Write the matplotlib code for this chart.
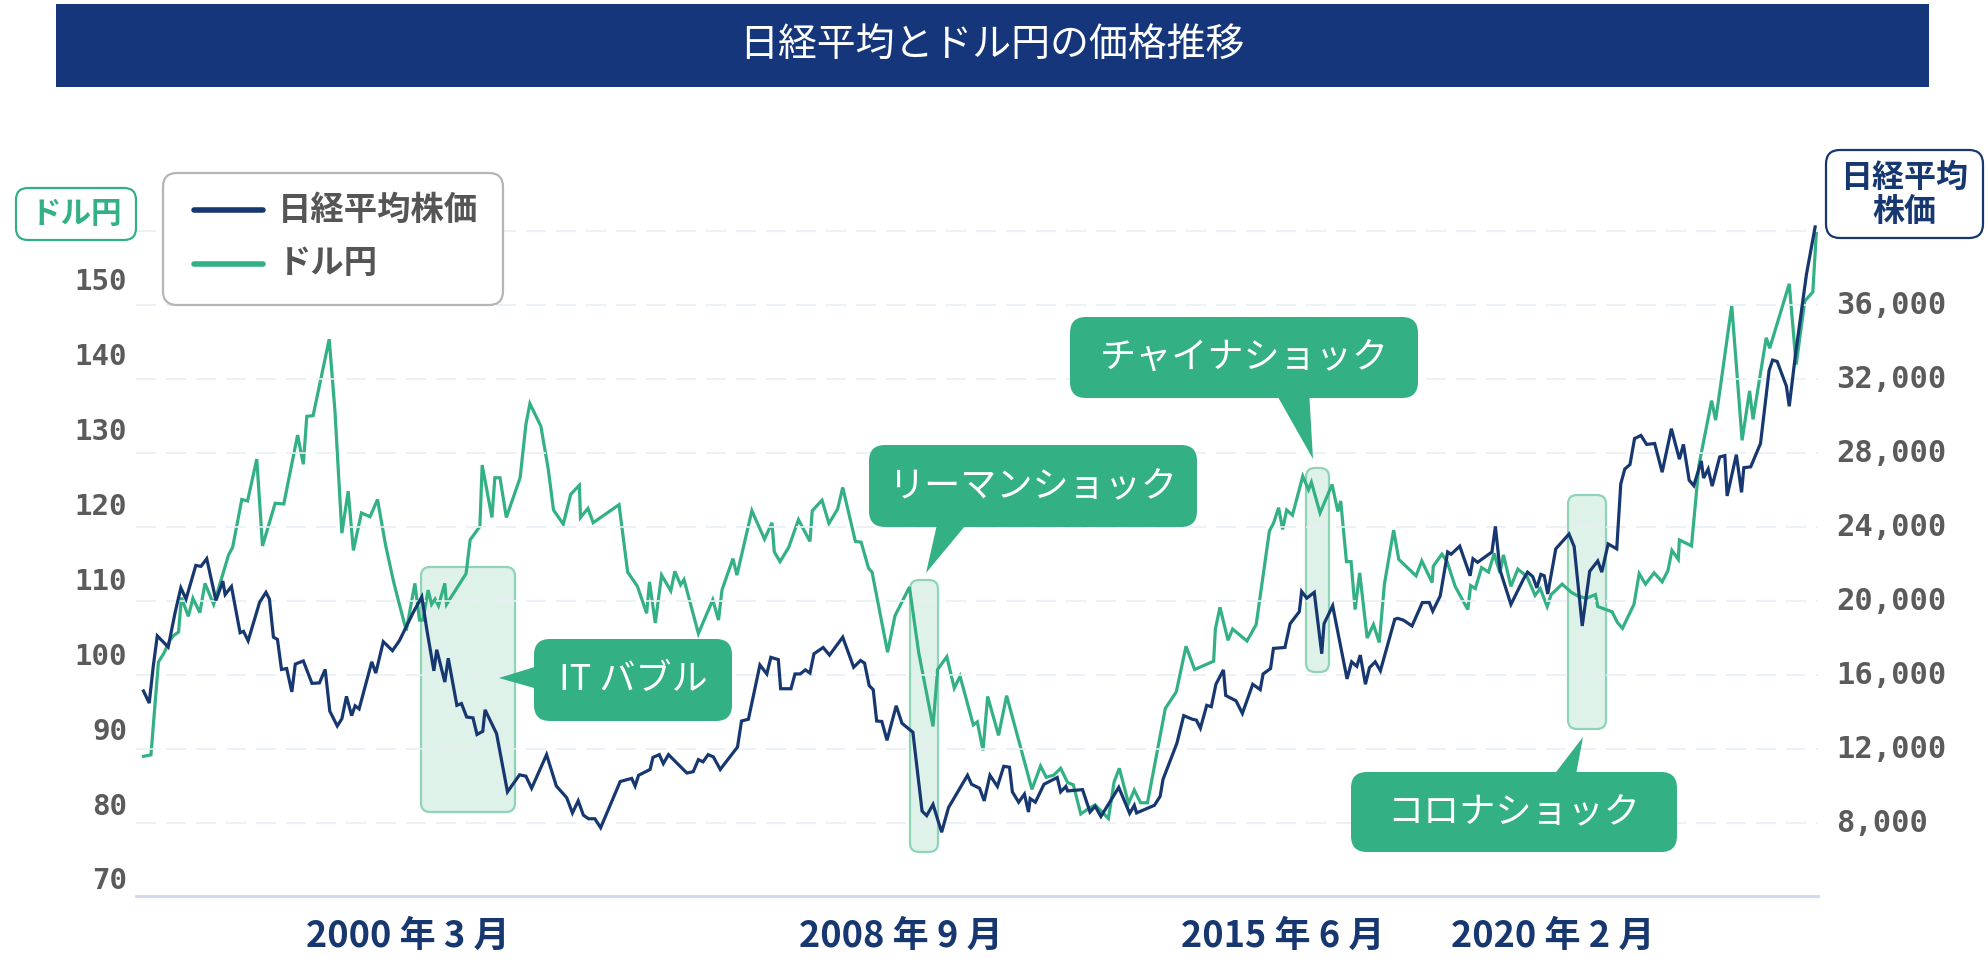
import matplotlib
matplotlib.use("Agg")
import matplotlib.pyplot as plt
from matplotlib.patches import FancyBboxPatch, Polygon, Rectangle
from matplotlib.lines import Line2D
from matplotlib.transforms import IdentityTransform

plt.rcParams['font.family'] = ['Noto Sans CJK JP', 'DejaVu Sans']

# ---- data (decimal year, value) ----
nikkei_t = [
    1995.40, 1995.50, 1995.57, 1995.64, 1995.83, 1995.95, 1996.05, 1996.14, 1996.31, 1996.40,
    1996.50, 1996.66, 1996.78, 1996.82, 1996.93, 1997.08, 1997.14, 1997.22, 1997.42, 1997.53,
    1997.59, 1997.66, 1997.73, 1997.80, 1997.89, 1997.98, 1998.04, 1998.18, 1998.33, 1998.46,
    1998.56, 1998.64, 1998.77, 1998.85, 1998.93, 1999.02, 1999.08, 1999.15, 1999.37, 1999.44,
    1999.57, 1999.73, 1999.85, 2000.09, 2000.24, 2000.33, 2000.45, 2000.50, 2000.64, 2000.70,
    2000.85, 2000.93, 2001.02, 2001.13, 2001.20, 2001.30, 2001.34, 2001.54, 2001.73, 2001.94,
    2002.05, 2002.15, 2002.41, 2002.58, 2002.76, 2002.86, 2002.96, 2003.05, 2003.14, 2003.25,
    2003.35, 2003.69, 2003.89, 2003.95, 2004.01, 2004.21, 2004.26, 2004.37, 2004.44, 2004.53,
    2004.85, 2004.96, 2005.05, 2005.13, 2005.22, 2005.31, 2005.43, 2005.73, 2005.80, 2005.92,
    2006.12, 2006.24, 2006.31, 2006.44, 2006.48, 2006.66, 2006.73, 2006.82, 2006.91, 2006.99,
    2007.06, 2007.22, 2007.33, 2007.56, 2007.75, 2007.87, 2007.94, 2008.02, 2008.09, 2008.15,
    2008.24, 2008.33, 2008.49, 2008.59, 2008.78, 2008.94, 2009.02, 2009.13, 2009.28, 2009.40,
    2009.73, 2009.80, 2009.94, 2010.02, 2010.12, 2010.25, 2010.36, 2010.46, 2010.51, 2010.62,
    2010.72, 2010.79, 2010.82, 2010.91, 2011.06, 2011.29, 2011.35, 2011.44, 2011.47, 2011.73,
    2011.86, 2011.95, 2012.05, 2012.36, 2012.55, 2012.63, 2012.67, 2012.98, 2013.08, 2013.13,
    2013.37, 2013.49, 2013.64, 2013.71, 2013.78, 2013.89, 2013.97, 2014.05, 2014.18, 2014.22,
    2014.40, 2014.51, 2014.69, 2014.82, 2014.87, 2015.00, 2015.05, 2015.25, 2015.34, 2015.50,
    2015.54, 2015.63, 2015.76, 2015.89, 2015.93, 2016.08, 2016.33, 2016.41, 2016.50, 2016.56,
    2016.65, 2016.72, 2016.82, 2016.91, 2017.16, 2017.21, 2017.31, 2017.46, 2017.64, 2017.76,
    2017.82, 2017.95, 2018.08, 2018.14, 2018.29, 2018.47, 2018.52, 2018.60, 2018.85, 2018.91,
    2018.99, 2019.18, 2019.40, 2019.47, 2019.56, 2019.63, 2019.70, 2019.76, 2019.82, 2019.96,
    2020.19, 2020.28, 2020.42, 2020.55, 2020.69, 2020.76, 2020.87, 2021.02, 2021.09, 2021.16,
    2021.25, 2021.33, 2021.44, 2021.54, 2021.68, 2021.81, 2021.97, 2022.11, 2022.18, 2022.28,
    2022.36, 2022.49, 2022.53, 2022.61, 2022.68, 2022.81, 2022.90, 2022.94, 2023.10, 2023.19,
    2023.23, 2023.35, 2023.52, 2023.67, 2023.73, 2023.81, 2023.97, 2024.02, 2024.13, 2024.32,
    2024.47,
]
nikkei_v = [
    15154, 14500, 16487, 18135, 17530, 19396, 20729, 20123, 21941, 21893,
    22305, 20051, 21093, 20366, 20802, 18305, 18378, 17869, 19954, 20487,
    20123, 18063, 17942, 16318, 16367, 15106, 16609, 16779, 15567, 15591,
    16318, 14063, 13263, 13651, 14864, 13821, 14354, 14184, 16730, 16124,
    17820, 17335, 17869, 19396, 20245, 18427, 16245, 17384, 15639, 16924,
    14379, 14475, 13748, 13700, 12803, 12973, 14136, 12852, 9701, 10622,
    10549, 9894, 11712, 10015, 9385, 8561, 9215, 8440, 8246, 8246,
    7761, 10258, 10428, 10015, 10597, 10912, 11566, 11712, 11227, 11712,
    10718, 10791, 11445, 11324, 11712, 11591, 10912, 12125, 13531, 13628,
    16561, 16076, 16973, 16852, 15276, 15276, 16076, 16076, 16294, 16124,
    17167, 17506, 17094, 18063, 16439, 16803, 16657, 15445, 15227, 13531,
    13506, 12488, 14355, 13409, 12924, 8658, 8416, 9021, 7518, 8852,
    10597, 10112, 9894, 9215, 10597, 9991, 11082, 11033, 9700, 9142,
    9579, 8609, 9337, 9142, 10112, 10476, 9700, 9991, 9749, 9821,
    8609, 8924, 8367, 9942, 8537, 8973, 8561, 8973, 9458, 10379,
    12318, 13821, 13627, 13579, 13143, 14379, 14306, 15518, 16294, 14912,
    14621, 13943, 15518, 15227, 16076, 16367, 17457, 17506, 18791, 19443,
    20535, 20173, 20487, 17167, 18791, 19760, 15809, 16730, 16488, 17094,
    15518, 16415, 16730, 16245, 19033, 19082, 18985, 18669, 19937, 19937,
    19469, 20293, 22669, 22547, 22984, 21384, 22305, 22111, 22669, 24050,
    21699, 19833, 21215, 21578, 21336, 20730, 21457, 21384, 20400, 22839,
    23639, 22960, 18669, 21627, 22184, 21578, 23105, 22839, 26353, 27153,
    27395, 28801, 28971, 28486, 28535, 26983, 29334, 27686, 28486, 26547,
    26256, 27589, 26668, 27153, 26232, 27808, 27880, 25699, 27929, 25893,
    27226, 27274, 28535, 32486, 33043, 32970, 31637, 30547, 33383, 37697,
    40243,
]

usdjpy_t = [
    1995.40, 1995.53, 1995.66, 1995.75, 1995.86, 1995.92, 1996.01, 1996.06, 1996.18, 1996.26,
    1996.38, 1996.47, 1996.62, 1996.67, 1996.88, 1996.95, 1997.11, 1997.21, 1997.37, 1997.47,
    1997.69, 1997.84, 1998.08, 1998.18, 1998.24, 1998.35, 1998.63, 1998.73, 1998.85, 1998.96,
    1999.05, 1999.19, 1999.34, 1999.47, 1999.61, 1999.75, 1999.86, 1999.97, 2000.12, 2000.20,
    2000.26, 2000.35, 2000.41, 2000.47, 2000.53, 2000.64, 2000.67, 2001.01, 2001.08, 2001.25,
    2001.29, 2001.46, 2001.51, 2001.60, 2001.71, 2001.95, 2002.05, 2002.12, 2002.31, 2002.44,
    2002.53, 2002.70, 2002.83, 2002.98, 2003.00, 2003.13, 2003.22, 2003.67, 2003.82, 2003.99,
    2004.15, 2004.20, 2004.30, 2004.41, 2004.57, 2004.64, 2004.74, 2004.80, 2005.05, 2005.30,
    2005.40, 2005.46, 2005.65, 2005.72, 2005.98, 2006.20, 2006.33, 2006.37, 2006.47, 2006.62,
    2006.79, 2006.99, 2007.03, 2007.20, 2007.32, 2007.47, 2007.56, 2007.78, 2007.88, 2008.01,
    2008.07, 2008.34, 2008.47, 2008.72, 2008.88, 2009.13, 2009.21, 2009.37, 2009.50, 2009.60,
    2009.83, 2009.90, 2010.00, 2010.08, 2010.27, 2010.41, 2010.85, 2011.00, 2011.10, 2011.23,
    2011.35, 2011.47, 2011.57, 2011.70, 2011.83, 2011.95, 2012.18, 2012.28, 2012.37, 2012.53,
    2012.63, 2012.74, 2012.86, 2013.17, 2013.36, 2013.53, 2013.68, 2014.01, 2014.04, 2014.12,
    2014.26, 2014.34, 2014.59, 2014.75, 2014.98, 2015.05, 2015.14, 2015.21, 2015.28, 2015.38,
    2015.56, 2015.66, 2015.71, 2015.86, 2016.07, 2016.17, 2016.22, 2016.32, 2016.40, 2016.47,
    2016.55, 2016.68, 2016.79, 2016.89, 2016.98, 2017.14, 2017.23, 2017.53, 2017.63, 2017.81,
    2017.83, 2017.98, 2018.07, 2018.21, 2018.43, 2018.48, 2018.56, 2018.67, 2018.79, 2018.89,
    2018.92, 2018.99, 2019.05, 2019.18, 2019.30, 2019.46, 2019.60, 2019.69, 2019.81, 2019.88,
    2020.07, 2020.23, 2020.35, 2020.49, 2020.65, 2020.69, 2020.94, 2021.03, 2021.12, 2021.32,
    2021.41, 2021.52, 2021.67, 2021.81, 2021.91, 2021.98, 2022.09, 2022.11, 2022.32, 2022.45,
    2022.67, 2022.74, 2022.84, 2023.02, 2023.20, 2023.33, 2023.39, 2023.62, 2023.68, 2024.02,
    2024.14, 2024.29, 2024.43, 2024.49,
]
usdjpy_v = [
    86.7, 86.9, 99.3, 100.4, 102.2, 102.8, 103.3, 107.9, 105.4, 107.8,
    105.9, 109.8, 107.0, 108.2, 113.6, 114.6, 121.0, 120.8, 126.4, 114.8,
    120.5, 120.4, 129.6, 125.7, 132.1, 132.2, 142.4, 132.8, 116.5, 122.1,
    114.2, 119.2, 118.7, 121.0, 114.9, 110.0, 106.7, 103.5, 109.8, 104.9,
    104.9, 108.9, 107.0, 107.7, 106.8, 109.8, 107.0, 111.1, 115.6, 117.4,
    125.6, 118.6, 123.9, 123.9, 118.6, 123.9, 131.0, 133.8, 130.8, 125.0,
    119.6, 117.7, 121.7, 122.9, 118.6, 119.8, 117.9, 120.3, 111.3, 109.4,
    105.8, 110.0, 104.5, 110.9, 108.8, 111.4, 109.6, 110.3, 103.1, 107.6,
    104.9, 108.9, 113.1, 110.9, 119.5, 115.7, 117.9, 114.0, 112.7, 114.6,
    118.3, 115.4, 119.5, 120.9, 117.8, 119.7, 122.6, 115.4, 115.3, 111.8,
    111.3, 100.6, 105.5, 109.3, 100.6, 90.7, 98.3, 100.0, 95.8, 97.4,
    90.9, 91.3, 87.5, 94.7, 89.5, 94.8, 82.3, 85.4, 83.9, 84.2,
    85.1, 83.2, 82.9, 79.0, 79.7, 80.2, 78.4, 83.3, 85.1, 80.4,
    82.2, 80.5, 80.5, 93.1, 95.3, 101.4, 98.3, 99.4, 103.7, 106.6,
    102.2, 103.7, 102.1, 104.3, 116.8, 117.8, 119.9, 117.0, 119.6, 118.9,
    124.1, 122.3, 123.3, 119.2, 123.0, 119.4, 120.8, 112.7, 112.7, 106.3,
    111.2, 102.5, 104.3, 101.9, 109.7, 116.9, 113.0, 110.8, 112.8, 109.9,
    112.1, 113.7, 112.7, 109.4, 106.3, 109.5, 109.1, 111.9, 111.3, 113.8,
    112.9, 111.2, 113.6, 109.4, 111.7, 110.7, 108.2, 109.1, 106.7, 108.3,
    109.7, 108.6, 108.1, 107.8, 108.3, 106.7, 106.0, 104.6, 103.8, 107.0,
    111.1, 109.7, 111.2, 110.0, 111.5, 114.2, 113.0, 115.6, 114.8, 125.6,
    134.2, 131.6, 137.0, 146.9, 128.9, 135.5, 131.7, 142.6, 141.2, 149.8,
    139.0, 147.5, 148.7, 156.5,
]

usd_ticks = [150, 140, 130, 120, 110, 100, 90, 80, 70]
nikkei_ticks = [36000, 32000, 28000, 24000, 20000, 16000, 12000, 8000]
nikkei_grid = [40000, 36000, 32000, 28000, 24000, 20000, 16000, 12000, 8000]
date_ticks = [2000.0, 2008.57, 2015.22, 2019.91]
date_labels = ['2000 年 3 月', '2008 年 9 月', '2015 年 6 月', '2020 年 2 月']

TITLE = '日経平均とドル円の価格推移'
NAME_NIKKEI = '日経平均株価'
NAME_USD = 'ドル円'
events = ['IT バブル', 'リーマンショック', 'チャイナショック', 'コロナショック']

# ---- style ----
NAVY = '#16376f'
GREEN = '#33b084'
GRAY = '#5b5b5b'
HL_FACE = '#dff2ea'
HL_EDGE = '#8fd4b6'

W, H = 1986, 959
fig = plt.figure(figsize=(W / 100, H / 100), dpi=100)
fig.patch.set_facecolor('white')


def px(x, y):
    # reference pixel (top-left origin) -> display pixel
    return x, H - y


def fxy(x, y):
    return x / W, 1 - y / H


def rbox(x0, y0, x1, y1, r, **kw):
    X0, Y1 = px(x0, y1)
    return FancyBboxPatch((X0, Y1), x1 - x0, y1 - y0,
                          boxstyle=f'round,pad=0,rounding_size={r}',
                          transform=IdentityTransform(), **kw)


# axes
AX_L, AX_R, AX_T, AX_B = 136, 1818, 158, 896
ax = fig.add_axes([AX_L / W, 1 - AX_B / H, (AX_R - AX_L) / W, (AX_B - AX_T) / H])
ax2 = ax.twinx()

for spine in ['top', 'left', 'right']:
    ax.spines[spine].set_visible(False)
    ax2.spines[spine].set_visible(False)
ax2.spines['bottom'].set_visible(False)
ax.spines['bottom'].set_color('#cfd8ea')
ax.spines['bottom'].set_linewidth(2.0)

# event highlight boxes (under the lines)
hl_boxes = [(421, 567, 515, 812), (910, 580, 938, 852),
            (1306, 468, 1329, 672), (1568, 495, 1606, 729)]
for (x0, y0, x1, y1) in hl_boxes:
    p = rbox(x0, y0, x1, y1, 9, facecolor=HL_FACE, edgecolor=HL_EDGE,
             linewidth=1.6, zorder=1)
    p.set_clip_on(False)
    ax.add_patch(p)

ax.plot(usdjpy_t, usdjpy_v, color=GREEN, lw=2.3, zorder=3, solid_joinstyle='miter')
ax2.plot(nikkei_t, nikkei_v, color=NAVY, lw=2.3, zorder=3, solid_joinstyle='miter')

for g in nikkei_grid:
    ax2.axhline(g, color='#e9edf6', lw=1.2, ls=(0, (12, 6)), zorder=0)

ax.set_xlim(1995.27, 2024.52)
ax.set_ylim(68.05, 166.6)
ax2.set_ylim(4070, 43970)

ax.set_yticks(usd_ticks)
ax.set_yticklabels([str(v) for v in usd_ticks])
ax2.set_yticks(nikkei_ticks)
ax2.set_yticklabels([f'{v:,}' for v in nikkei_ticks])
ax.tick_params(axis='y', length=0, pad=6.5, labelsize=21, labelcolor=GRAY)
ax2.tick_params(axis='y', length=0, pad=13, labelsize=22, labelcolor=GRAY)
for lbl in ax.get_yticklabels() + ax2.get_yticklabels():
    lbl.set_fontfamily('DejaVu Sans Mono')
    lbl.set_fontweight('bold')
    lbl.set_va('center')

ax.set_xticks(date_ticks)
ax.set_xticklabels(date_labels)
ax.tick_params(axis='x', length=0, pad=29, labelsize=26, labelcolor=NAVY)
for lbl in ax.get_xticklabels():
    lbl.set_fontweight('bold')
    lbl.set_va('center')

# title bar
bar = Rectangle(px(56, 87), 1929 - 56, 87 - 4, transform=IdentityTransform(),
                facecolor='#15367a', edgecolor='none')
fig.add_artist(bar)
fig.text(*fxy(992, 46), TITLE, color='white', fontsize=28, ha='center', va='center')

# legend
fig.add_artist(rbox(163, 173, 503, 305, 14, facecolor='white', edgecolor='#b5b5b5',
                    linewidth=1.6, zorder=5))
for yy, col, name in [(210, NAVY, NAME_NIKKEI), (264, GREEN, NAME_USD)]:
    fig.add_artist(Line2D([194, 263], [H - yy, H - yy], color=col, lw=4,
                          solid_capstyle='round', transform=IdentityTransform(), zorder=6))
    fig.text(*fxy(278, yy), name, color='#555555', fontsize=24, fontweight='bold',
             ha='left', va='center', zorder=6)

# axis name boxes
fig.add_artist(rbox(16, 188, 136, 240, 12, facecolor='white', edgecolor=GREEN,
                    linewidth=1.6, zorder=5))
fig.text(*fxy(76, 214), NAME_USD, color=GREEN, fontsize=22, fontweight='bold',
         ha='center', va='center', zorder=6)
fig.add_artist(rbox(1826, 150, 1983, 238, 14, facecolor='white', edgecolor=NAVY,
                    linewidth=1.6, zorder=5))
fig.text(*fxy(1904, 195), '日経平均\n株価', color=NAVY, fontsize=23, fontweight='bold',
         ha='center', va='center', linespacing=1.05, zorder=6)

# callouts: box, tail, label
callouts = [
    ((534, 639, 732, 721), [(541, 665), (499, 678), (541, 690)], (633, 680)),
    ((869, 445, 1197, 527), [(938, 520), (926, 573), (970, 520)], (1033, 486)),
    ((1070, 317, 1418, 398), [(1274, 390), (1313, 459), (1309, 390)], (1244, 358)),
    ((1351, 772, 1677, 852), [(1550, 780), (1583, 737), (1575, 780)], (1514, 812)),
]
for text, (box, tail, center) in zip(events, callouts):
    fig.add_artist(rbox(*box, 16, facecolor=GREEN, edgecolor='none', zorder=7))
    fig.add_artist(Polygon([px(x, y) for x, y in tail], closed=True, facecolor=GREEN,
                           edgecolor='none', transform=IdentityTransform(), zorder=7))
    fig.text(*fxy(*center), text, color='white', fontsize=26, ha='center', va='center',
             zorder=8)

fig.savefig('out.png', dpi=100)
